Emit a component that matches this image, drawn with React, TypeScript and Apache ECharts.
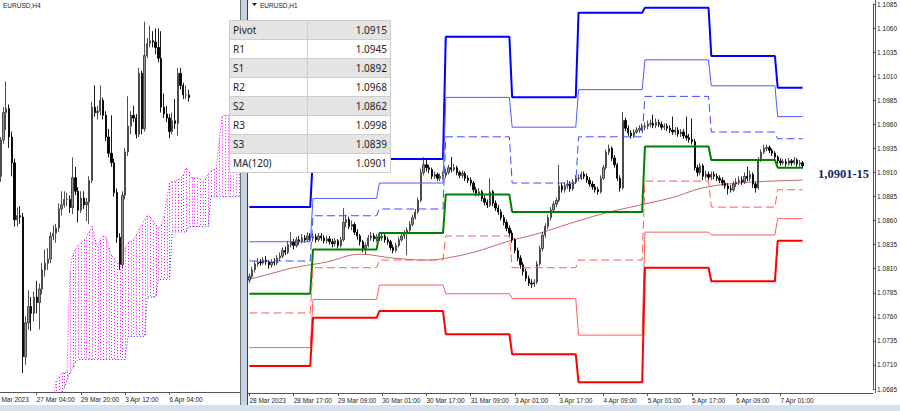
import React, { useEffect, useRef } from "react";
import * as echarts from "echarts";

// ================= H1 panel (right) =================
const h1Days = ["28 Mar", "29 Mar", "30 Mar", "31 Mar", "3 Apr", "4 Apr", "5 Apr", "6 Apr", "7 Apr"];
const h1DayBars = [23, 24, 24, 24, 24, 24, 24, 24, 10];
const h1CatDays = ["28 Mar", "29 Mar", "30 Mar", "31 Mar", "3 Apr", "4 Apr", "5 Apr", "6 Apr", "7 Apr", "10 Apr"];
const h1CatFirstHour = [1, 0, 0, 0, 0, 0, 0, 0, 0, 0];
const h1CatCount = [23, 24, 24, 24, 24, 24, 24, 24, 24, 24];
const h1TotalSlots = 226;
const h1FirstLabel = "28 Mar 2023";
const h1FirstOpen = 1.0798;

const h1Close = [
  1.0802, 1.0809, 1.0815, 1.0817, 1.0816, 1.0819, 1.0817, 1.0814, 1.0817, 1.0816, 1.0821, 1.0823, 1.0829, 1.0827, 1.0835, 1.0838, 1.0834, 1.084, 1.0838, 1.0842, 1.084, 1.0844, 1.0842,
  1.0843, 1.084, 1.0844, 1.0842, 1.0839, 1.0841, 1.0838, 1.0836, 1.0839, 1.0834, 1.084, 1.0858, 1.0861, 1.0854, 1.0856, 1.0848, 1.0844, 1.0838, 1.0831, 1.0834, 1.0842, 1.0844, 1.0841, 1.0843,
  1.0842, 1.0844, 1.084, 1.0838, 1.0832, 1.0829, 1.0834, 1.084, 1.0844, 1.0847, 1.085, 1.0856, 1.0863, 1.0869, 1.0881, 1.091, 1.0918, 1.0915, 1.0913, 1.0906, 1.0908, 1.0904, 1.0906, 1.0907,
  1.091, 1.0915, 1.0913, 1.0915, 1.091, 1.0907, 1.0909, 1.0904, 1.0902, 1.0899, 1.0892, 1.0888, 1.089, 1.0883, 1.0879, 1.0876, 1.089, 1.0878, 1.0873, 1.0869, 1.0863, 1.0858, 1.0852, 1.0847,
  1.084, 1.0829, 1.0821, 1.0814, 1.0807, 1.08, 1.0795, 1.0794, 1.0796, 1.0815, 1.0831, 1.0845, 1.0854, 1.0863, 1.0871, 1.0877, 1.0881, 1.0896, 1.0892, 1.0896, 1.0898, 1.0893, 1.09, 1.0904,
  1.0904, 1.0908, 1.0906, 1.0902, 1.0898, 1.0895, 1.0892, 1.089, 1.0904, 1.0915, 1.0931, 1.0935, 1.0925, 1.0918, 1.0904, 1.0894, 1.0964, 1.0956, 1.0951, 1.0948, 1.0952, 1.0954, 1.0956, 1.0957,
  1.0958, 1.096, 1.0961, 1.0959, 1.0962, 1.096, 1.0957, 1.0958, 1.0956, 1.0954, 1.0952, 1.0954, 1.095, 1.0952, 1.0948, 1.0946, 1.0944, 1.0942, 1.0915, 1.091, 1.0917, 1.0906, 1.0908, 1.0905,
  1.0908, 1.0906, 1.0904, 1.0902, 1.0899, 1.0896, 1.0893, 1.0892, 1.0898, 1.09, 1.0902, 1.09, 1.0906, 1.0904, 1.0908, 1.0898, 1.0894, 1.0923, 1.0931, 1.0935, 1.0936, 1.0933, 1.093, 1.0926,
  1.0922, 1.092, 1.0921, 1.0919, 1.0922, 1.092, 1.0923, 1.0919, 1.092, 1.0917,
];
const h1High = [
  1.0805, 1.0812, 1.0818, 1.0821, 1.082, 1.0822, 1.0823, 1.0819, 1.082, 1.0821, 1.0824, 1.0827, 1.0832, 1.0833, 1.0839, 1.0848, 1.0841, 1.0843, 1.0844, 1.0846, 1.0845, 1.0848, 1.0847,
  1.0847, 1.0846, 1.0847, 1.0847, 1.0845, 1.0844, 1.0844, 1.0841, 1.0842, 1.0841, 1.0843, 1.0873, 1.0866, 1.0864, 1.086, 1.0858, 1.0851, 1.0846, 1.084, 1.0837, 1.0845, 1.0848, 1.0847, 1.0846,
  1.0847, 1.0848, 1.0846, 1.0843, 1.084, 1.0835, 1.0837, 1.0843, 1.0847, 1.085, 1.0853, 1.0859, 1.0866, 1.0872, 1.0884, 1.0914, 1.0926, 1.0923, 1.0918, 1.0915, 1.0911, 1.091, 1.0909, 1.0911,
  1.0914, 1.0918, 1.0926, 1.0919, 1.0917, 1.0912, 1.0912, 1.0911, 1.0907, 1.0905, 1.0901, 1.0895, 1.0894, 1.0892, 1.0886, 1.0882, 1.0904, 1.0892, 1.0881, 1.0876, 1.0872, 1.0866, 1.0861, 1.0855,
  1.085, 1.0842, 1.0832, 1.0824, 1.0817, 1.081, 1.0803, 1.0799, 1.0799, 1.0818, 1.0834, 1.0848, 1.0857, 1.0866, 1.0874, 1.088, 1.0884, 1.0918, 1.0899, 1.09, 1.0902, 1.0901, 1.0903, 1.0907,
  1.0908, 1.0911, 1.0911, 1.0909, 1.0905, 1.0901, 1.0898, 1.0895, 1.0907, 1.0918, 1.0934, 1.0939, 1.0937, 1.0928, 1.092, 1.0907, 1.0973, 1.0967, 1.0959, 1.0954, 1.0955, 1.0957, 1.0959, 1.0961,
  1.0962, 1.0964, 1.0965, 1.097, 1.0966, 1.0965, 1.0963, 1.0961, 1.0961, 1.0959, 1.0968, 1.0957, 1.0957, 1.0955, 1.0955, 1.0968, 1.095, 1.0966, 1.0945, 1.0918, 1.092, 1.0919, 1.0912, 1.0911,
  1.0911, 1.0911, 1.0909, 1.0907, 1.0905, 1.0902, 1.0899, 1.0897, 1.0901, 1.0904, 1.0906, 1.0906, 1.091, 1.0916, 1.0912, 1.091, 1.09, 1.0926, 1.0934, 1.0939, 1.0939, 1.0938, 1.0935, 1.0932,
  1.0928, 1.0925, 1.0924, 1.0924, 1.0925, 1.0924, 1.0926, 1.0925, 1.0923, 1.0922,
];
const h1Low = [
  1.0795, 1.08, 1.0806, 1.0812, 1.0813, 1.0814, 1.0814, 1.081, 1.0811, 1.0813, 1.0814, 1.0818, 1.0821, 1.0824, 1.0825, 1.0832, 1.083, 1.0832, 1.0835, 1.0836, 1.0837, 1.0838, 1.0839,
  1.0838, 1.0837, 1.0838, 1.0839, 1.0836, 1.0836, 1.0835, 1.0832, 1.0833, 1.0831, 1.0832, 1.0838, 1.0853, 1.0851, 1.085, 1.0845, 1.084, 1.0834, 1.0827, 1.0825, 1.0832, 1.0839, 1.0838, 1.0838,
  1.0839, 1.0839, 1.0837, 1.0835, 1.0829, 1.0826, 1.0827, 1.0832, 1.0838, 1.0841, 1.0824, 1.0848, 1.0854, 1.0861, 1.0867, 1.0879, 1.0907, 1.0911, 1.0909, 1.0903, 1.0903, 1.0901, 1.0901, 1.0903,
  1.0904, 1.0908, 1.091, 1.0911, 1.0907, 1.0904, 1.0904, 1.0901, 1.0899, 1.0896, 1.0889, 1.0885, 1.0885, 1.088, 1.0876, 1.0873, 1.0874, 1.0875, 1.087, 1.0866, 1.086, 1.0855, 1.0849, 1.0844,
  1.0837, 1.0826, 1.0818, 1.081, 1.0803, 1.0797, 1.0792, 1.079, 1.0791, 1.0794, 1.0813, 1.0828, 1.0842, 1.0851, 1.086, 1.0868, 1.0874, 1.0879, 1.0889, 1.0889, 1.0893, 1.089, 1.0891, 1.0898,
  1.0901, 1.0902, 1.0903, 1.0899, 1.0895, 1.0892, 1.0889, 1.0887, 1.0888, 1.0902, 1.0913, 1.0928, 1.0922, 1.0915, 1.0901, 1.089, 1.0892, 1.0953, 1.0948, 1.0945, 1.0946, 1.095, 1.0951, 1.0953,
  1.0954, 1.0955, 1.0957, 1.0956, 1.0956, 1.0957, 1.0954, 1.0954, 1.0953, 1.0951, 1.0949, 1.0949, 1.0947, 1.0947, 1.0945, 1.0943, 1.0941, 1.0939, 1.0912, 1.0906, 1.0907, 1.0902, 1.0903, 1.0902,
  1.0902, 1.0903, 1.0901, 1.0899, 1.0896, 1.0893, 1.0887, 1.0889, 1.089, 1.0895, 1.0897, 1.0897, 1.0898, 1.0901, 1.0901, 1.0894, 1.0889, 1.0892, 1.0921, 1.0929, 1.0932, 1.093, 1.0927, 1.0923,
  1.0919, 1.0917, 1.0918, 1.0916, 1.0917, 1.0917, 1.0918, 1.0916, 1.0916, 1.0914,
];

// daily pivot levels (one value per trading day in h1Days)
const pivR3 = [1.0874, 1.0928, 1.0924, 1.1051, 1.0988, 1.1076, 1.1081, 1.1031, 1.0998];
const pivR2 = [1.0838, 1.0883, 1.0899, 1.0988, 1.0957, 1.0996, 1.1027, 1.1, 1.0968];
const pivR1 = [1.0818, 1.0865, 1.0872, 1.0947, 1.0899, 1.0947, 1.0989, 1.0952, 1.0945];
const pivP = [1.0784, 1.083, 1.0847, 1.0887, 1.0869, 1.0869, 1.0937, 1.0923, 1.0915];
const pivS1 = [1.0764, 1.0811, 1.0819, 1.0844, 1.0811, 1.0819, 1.0901, 1.0874, 1.0892];
const pivS2 = [1.0728, 1.0778, 1.0793, 1.0784, 1.0779, 1.0741, 1.0848, 1.0845, 1.0862];
const pivS3 = [1.0709, 1.0759, 1.0766, 1.0742, 1.0721, 1.0692, 1.0811, 1.0797, 1.0839];

// MA(120) read at these bar indices
const ma120Idx = [0, 8, 16, 28, 40, 52, 64, 69, 81, 93, 105, 117, 129, 141, 153, 164, 177, 189, 200];
const ma120Val = [1.0799, 1.0805, 1.0811, 1.0817, 1.0825, 1.0821, 1.0819, 1.082, 1.0827, 1.0838, 1.0847, 1.0858, 1.0868, 1.0876, 1.0884, 1.0894, 1.0899, 1.0901, 1.0902];

const h1AxisMin = 1.0685;
const h1AxisMax = 1.1085;
const h1AxisStep = 0.0025;
const lastPrice = 1.0917;
const annotationText = "1,0901-15";

const tableLabels = ["Pivot", "R1", "S1", "R2", "S2", "R3", "S3", "MA(120)"];
const tableValues = ["1.0915", "1.0945", "1.0892", "1.0968", "1.0862", "1.0998", "1.0839", "1.0901"];

// ================= H4 panel (left) =================
const h4CatDays = ["22 Mar", "23 Mar", "24 Mar", "27 Mar", "28 Mar", "29 Mar", "30 Mar", "31 Mar", "3 Apr", "4 Apr", "5 Apr", "6 Apr", "7 Apr", "10 Apr", "11 Apr", "12 Apr"];
const h4CatFirstHour = [12, 0, 0, 0, 0, 0, 0, 0, 0, 0, 0, 0, 0, 0, 0, 0];
const h4CatCount = [3, 6, 6, 6, 6, 6, 6, 6, 6, 6, 6, 6, 6, 6, 6, 6];
const h4TotalSlots = 90;
const h4FirstLabel = "22 Mar 2023";
const h4FirstLabelVisible = "Mar 2023"; // only this part shows at the panel's left edge
const h4FirstOpen = 1.085;
const h4Close = [
  1.0862, 1.0888, 1.0859, 1.0886, 1.0906, 1.0909, 1.0888, 1.0869, 1.0827, 1.083,
  1.0829, 1.0726, 1.0751, 1.0763, 1.0758, 1.077, 1.0766, 1.0776, 1.079, 1.0795,
  1.0798, 1.0815, 1.0817, 1.0821, 1.0835, 1.0838, 1.0842, 1.0842, 1.0836, 1.0858,
  1.0848, 1.0834, 1.0843, 1.0838, 1.084, 1.0856, 1.091, 1.0906, 1.0907, 1.0915,
  1.0904, 1.0888, 1.0876, 1.0869, 1.0847, 1.0814, 1.0794, 1.0845, 1.0877, 1.0896,
  1.0904, 1.0902, 1.089, 1.0935, 1.0894, 1.0948, 1.0957, 1.0959, 1.0958, 1.0954,
  1.0946, 1.091, 1.0905, 1.0902, 1.0892, 1.09, 1.0898, 1.0935, 1.0926, 1.0919,
  1.0919, 1.0917,
];
const h4Low = [
  1.0845, 1.0858, 1.0852, 1.0855, 1.0883, 1.0893, 1.088, 1.0859, 1.0822, 1.0822,
  1.0824, 1.0714, 1.072, 1.0746, 1.0745, 1.0752, 1.0758, 1.0746, 1.0772, 1.0785,
  1.079, 1.0795, 1.0812, 1.081, 1.0818, 1.083, 1.0836, 1.0837, 1.0832, 1.0831,
  1.0845, 1.0825, 1.0832, 1.0835, 1.0826, 1.0824, 1.0854, 1.0903, 1.0901, 1.0904,
  1.0901, 1.0885, 1.0873, 1.0866, 1.0844, 1.081, 1.079, 1.0791, 1.0842, 1.0874,
  1.089, 1.0899, 1.0887, 1.0888, 1.089, 1.0892, 1.0946, 1.0954, 1.0954, 1.0949,
  1.0943, 1.0906, 1.0902, 1.0899, 1.0887, 1.089, 1.0894, 1.0889, 1.0923, 1.0916,
  1.0916, 1.0914,
];
const h4High = [
  1.0868, 1.0892, 1.0912, 1.0888, 1.091, 1.0929, 1.0912, 1.0892, 1.0872, 1.0836,
  1.0837, 1.0832, 1.0756, 1.0775, 1.077, 1.0774, 1.0782, 1.078, 1.0795, 1.0805,
  1.0806, 1.0818, 1.0823, 1.0824, 1.0839, 1.0848, 1.0848, 1.0847, 1.0845, 1.0873,
  1.0866, 1.0851, 1.0848, 1.0848, 1.0843, 1.0859, 1.0914, 1.0926, 1.0911, 1.0926,
  1.0917, 1.0907, 1.0894, 1.0904, 1.0872, 1.085, 1.0817, 1.0848, 1.088, 1.0918,
  1.0907, 1.0911, 1.0905, 1.0939, 1.0937, 1.0973, 1.0961, 1.097, 1.0966, 1.0968,
  1.0968, 1.0966, 1.092, 1.0911, 1.0905, 1.0906, 1.0916, 1.0939, 1.0939, 1.0928,
  1.0926, 1.0923,
];

// Ichimoku cloud (Senkou spans), starting at H4 slot 22
const cloudStart = 22;
const spanA = [
  1.0694, 1.0708, 1.0711, 1.0714, 1.0714, 1.0715, 1.0788, 1.0801, 1.0805, 1.0808,
  1.081, 1.0812, 1.0814, 1.0818, 1.0822, 1.0812, 1.0807, 1.0812, 1.0815, 1.0814,
  1.0806, 1.0801, 1.0798, 1.0795, 1.0795, 1.0801, 1.0806, 1.081, 1.0811, 1.0812,
  1.0816, 1.082, 1.0823, 1.0827, 1.083, 1.0829, 1.0826, 1.0823, 1.082, 1.0823,
  1.0829, 1.0842, 1.0854, 1.0855, 1.0855, 1.0857, 1.0857, 1.086, 1.0865, 1.0862,
  1.0858, 1.0858, 1.0858, 1.0857, 1.0855, 1.0857, 1.0861, 1.0863, 1.0864, 1.0865,
  1.0886, 1.0903, 1.0904, 1.0904, 1.0904, 1.0906, 1.0907, 1.0907,
];
const spanB = [
  1.069, 1.0694, 1.0698, 1.07, 1.0703, 1.0709, 1.0714, 1.0718, 1.0722, 1.0724,
  1.0724, 1.0724, 1.0724, 1.0724, 1.0724, 1.0724, 1.0724, 1.0724, 1.0724, 1.0724,
  1.0724, 1.0724, 1.0724, 1.0724, 1.0724, 1.0724, 1.0724, 1.0741, 1.0741, 1.0741,
  1.0741, 1.0741, 1.0741, 1.0741, 1.077, 1.077, 1.077, 1.077, 1.0783, 1.0783,
  1.0783, 1.0783, 1.0783, 1.0818, 1.0818, 1.0818, 1.0818, 1.0818, 1.0818, 1.0822,
  1.0822, 1.0822, 1.0822, 1.0822, 1.0822, 1.0822, 1.0822, 1.0844, 1.0844, 1.0844,
  1.0844, 1.0844, 1.0844, 1.0844, 1.0844, 1.0844, 1.0844, 1.0844,
];
const h4AxisMin = 1.07;
const h4AxisMax = 1.0989;

// ================= helpers =================
function buildCats(days: string[], firstHours: number[], counts: number[], step: number, total: number, firstLabel: string) {
  const out: string[] = [];
  days.forEach((d, k) => {
    for (let n = 0; n < counts[k]; n++) {
      const h = firstHours[k] + n * step;
      out.push(`${d} ${String(h).padStart(2, "0")}:00`);
    }
  });
  const res = out.slice(0, total);
  res[0] = firstLabel;
  return res;
}

const FONT = "Liberation Sans";
// the chart canvas starts this many px left of the page edge, so the H4 panel's first bars are cut off
const OX = 9;

export default function App() {
  const ref = useRef<HTMLDivElement>(null);

  useEffect(() => {
    if (!ref.current) return;
    const chart = echarts.init(ref.current, undefined, { renderer: "svg", width: 900 + OX, height: 411 });

    const h1Cats = buildCats(h1CatDays, h1CatFirstHour, h1CatCount, 1, h1TotalSlots, h1FirstLabel);
    const h4Cats = buildCats(h4CatDays, h4CatFirstHour, h4CatCount, 4, h4TotalSlots, h4FirstLabel);

    const h1Candles = h1Close.map((c, i) => [i === 0 ? h1FirstOpen : h1Close[i - 1], c, h1Low[i], h1High[i]]);
    const h4Candles = h4Close.map((c, i) => [i === 0 ? h4FirstOpen : h4Close[i - 1], c, h4Low[i], h4High[i]]);

    const dayStart: number[] = [];
    h1DayBars.reduce((acc, n) => {
      dayStart.push(acc);
      return acc + n;
    }, 0);
    const stepData = (levels: number[]) => {
      const pts: number[][] = [];
      levels.forEach((v, d) => {
        pts.push([dayStart[d], v], [dayStart[d] + h1DayBars[d] - 1, v]);
      });
      return pts;
    };

    const pivotSpecs = [
      { name: "R3", data: pivR3, color: "#0000ff", width: 2, type: "solid" as any },
      { name: "R2", data: pivR2, color: "#4d5cff", width: 1, type: "solid" as any },
      { name: "R1", data: pivR1, color: "#3d4dff", width: 1, type: [8, 4] as any },
      { name: "Pivot", data: pivP, color: "#008000", width: 2, type: "solid" as any },
      { name: "S1", data: pivS1, color: "#ff5c5c", width: 1, type: [8, 4] as any },
      { name: "S2", data: pivS2, color: "#ff5c5c", width: 1, type: "solid" as any },
      { name: "S3", data: pivS3, color: "#ff0000", width: 2, type: "solid" as any },
    ];

    const cloudData = spanA.map((a, k) => [cloudStart + k, a, spanB[k]]);
    const spanAData = spanA.map((a, k) => [cloudStart + k, a]);
    const spanBData = spanB.map((b, k) => [cloudStart + k, b]);

    const h1LabelShow = (i: number) => i % 16 === 0 && i < h1Close.length;
    const h4LabelShow = (i: number) => i % 16 === 0 && i < h4Close.length;

    const candleStyle = {
      color: "#939393",
      color0: "#000000",
      borderColor: "#3c3c3c",
      borderColor0: "#000000",
      borderWidth: 0.9,
    };

    const axisText = { fontSize: 6.5, fontFamily: FONT, color: "#222" };

    // table graphics
    const tX = 229, tY = 20, rowH = 19, tW = 161, colX = 307.5;
    const tableEls: any[] = [];
    tableLabels.forEach((lab, i) => {
      const y = tY + i * rowH;
      tableEls.push({
        type: "rect", z: 100,
        shape: { x: tX + 0.5, y: y + 0.5, width: tW, height: rowH },
        style: { fill: i % 2 === 0 ? "#e4e4e4" : "#ffffff", stroke: "#cdcdcd", lineWidth: 1 },
      });
      tableEls.push({
        type: "line", z: 101,
        shape: { x1: colX, y1: y, x2: colX, y2: y + rowH },
        style: { stroke: "#cdcdcd", lineWidth: 1 },
      });
      tableEls.push({
        type: "text", z: 102, x: tX + 4, y: y + rowH / 2 + 0.5,
        style: { text: lab, fontSize: 10, fontFamily: "Noto Sans", fill: "#1e1e1e", verticalAlign: "middle", align: "left" },
      });
      tableEls.push({
        type: "text", z: 102, x: tX + tW - 3, y: y + rowH / 2 + 0.5,
        style: { text: tableValues[i], fontSize: 10, fontFamily: "Noto Sans", fill: "#1e1e1e", verticalAlign: "middle", align: "right" },
      });
    });

    const option: any = {
      animation: false,
      backgroundColor: "#ffffff",
      grid: [
        { left: 0, top: 0, width: 249, height: 392 },
        { left: 248 + OX, top: 4, width: 627, height: 385 },
      ],
      xAxis: [
        {
          type: "category", gridIndex: 0, data: h4Cats, boundaryGap: true,
          axisLine: { show: true, lineStyle: { color: "#555", width: 1 } },
          axisTick: { show: true, interval: (i: number) => h4LabelShow(i), alignWithLabel: true, length: 3, lineStyle: { color: "#555" } },
          axisLabel: {
            show: true, interval: (i: number) => h4LabelShow(i), align: "left", margin: 4, ...axisText,
            formatter: (v: string, i: number) => (i === 0 ? `{cut|${h4FirstLabelVisible}}` : v),
            rich: { cut: { ...axisText, padding: [0, 0, 0, 9] } },
          },
          splitLine: { show: false },
        },
        {
          type: "category", gridIndex: 1, data: h1Cats, boundaryGap: true, offset: 4,
          axisLine: { show: true, lineStyle: { color: "#555", width: 1 } },
          axisTick: { show: true, interval: (i: number) => h1LabelShow(i), alignWithLabel: true, length: 3, lineStyle: { color: "#555" } },
          axisLabel: { show: true, interval: (i: number) => h1LabelShow(i), align: "left", margin: 4, ...axisText },
          splitLine: { show: false },
        },
      ],
      yAxis: [
        { type: "value", gridIndex: 0, min: h4AxisMin, max: h4AxisMax, show: false, splitLine: { show: false } },
        {
          type: "value", gridIndex: 1, position: "right", min: h1AxisMin, max: h1AxisMax, interval: h1AxisStep,
          axisLine: { show: true, lineStyle: { color: "#555", width: 1 } },
          axisTick: { show: true, length: 3, lineStyle: { color: "#555" } },
          axisLabel: { show: true, margin: 4, formatter: (v: number) => v.toFixed(4), ...axisText },
          splitLine: { show: false },
        },
      ],
      series: [
        // ---- H4 ----
        {
          type: "custom", name: "cloud", xAxisIndex: 0, yAxisIndex: 0, silent: true, z: 1,
          encode: { x: 0, y: [1, 2] },
          data: cloudData,
          renderItem: (params: any, api: any) => {
            const top = api.coord([api.value(0), api.value(1)]);
            const bot = api.coord([api.value(0), api.value(2)]);
            const cs = params.coordSys;
            const clamp = (y: number) => Math.max(cs.y, Math.min(cs.y + cs.height, y));
            const x = Math.round(top[0]) + 0.5;
            return {
              type: "line",
              shape: { x1: x, y1: clamp(top[1]), x2: x, y2: clamp(bot[1]) },
              style: { stroke: "#ff00ff", lineWidth: 1, lineDash: [1, 2] },
            };
          },
        },
        {
          type: "line", name: "spanA", xAxisIndex: 0, yAxisIndex: 0, data: spanAData, symbol: "none", silent: true, z: 2,
          lineStyle: { color: "#ff00ff", width: 1, type: [1, 2] },
        },
        {
          type: "line", name: "spanB", xAxisIndex: 0, yAxisIndex: 0, data: spanBData, symbol: "none", silent: true, z: 2,
          lineStyle: { color: "#2a2aff", width: 1, type: [1, 2] },
        },
        {
          type: "candlestick", name: "EURUSD,H4", xAxisIndex: 0, yAxisIndex: 0, data: h4Candles, barWidth: 1.8, z: 3,
          itemStyle: candleStyle,
        },
        // ---- H1 ----
        {
          type: "line", name: "MA(120)", xAxisIndex: 1, yAxisIndex: 1, symbol: "none", smooth: 0.4, silent: true, z: 2,
          data: ma120Idx.map((x, k) => [x, ma120Val[k]]),
          lineStyle: { color: "#c26464", width: 1 },
        },
        {
          type: "candlestick", name: "EURUSD,H1", xAxisIndex: 1, yAxisIndex: 1, data: h1Candles, barWidth: 1.8, z: 3,
          itemStyle: candleStyle,
          markLine: {
            silent: true, symbol: ["none", "none"],
            data: [{ yAxis: lastPrice }],
            lineStyle: { opacity: 0 },
            label: {
              show: true, position: "end", distance: 1, formatter: lastPrice.toFixed(4),
              color: "#ffffff", backgroundColor: "#000000", fontSize: 6.5, fontFamily: FONT, padding: [1, 2, 1, 2],
            },
          },
        },
        ...pivotSpecs.map((p) => ({
          type: "line", name: p.name, xAxisIndex: 1, yAxisIndex: 1, symbol: "none", silent: true, z: 4,
          data: stepData(p.data),
          lineStyle: { color: p.color, width: p.width, type: p.type },
        })),
      ],
      graphic: [
        {
          type: "group", x: OX, y: 0,
          children: [
            // separator between panels
            { type: "rect", z: 50, shape: { x: 240, y: 0, width: 8, height: 405 }, style: { fill: "#c3d3e6" } },
            { type: "line", z: 51, shape: { x1: 240.5, y1: 0, x2: 240.5, y2: 405 }, style: { stroke: "#6f6f6f", lineWidth: 1 } },
            { type: "line", z: 51, shape: { x1: 247.5, y1: 0, x2: 247.5, y2: 405 }, style: { stroke: "#3c3c3c", lineWidth: 1 } },
            // bottom strip
            { type: "rect", z: 50, shape: { x: -OX, y: 405, width: 900 + OX, height: 6 }, style: { fill: "#d3e1f0" } },
            // right frame
            { type: "line", z: 50, shape: { x1: 875.5, y1: 0, x2: 875.5, y2: 393 }, style: { stroke: "#555", lineWidth: 1 } },
            // titles
            { type: "text", z: 60, x: 3, y: 2, style: { text: "EURUSD,H4", fontSize: 6.5, fontFamily: FONT, fill: "#222" } },
            { type: "polygon", z: 60, shape: { points: [[252, 3], [257, 3], [254.5, 6]] }, style: { fill: "#222" } },
            { type: "text", z: 60, x: 260, y: 2, style: { text: "EURUSD,H1", fontSize: 6.5, fontFamily: FONT, fill: "#222" } },
            ...tableEls,
            // annotation
            {
              type: "text", z: 60, x: 818, y: 174,
              style: { text: annotationText, fontSize: 12.5, fontWeight: "bold", fontFamily: "Liberation Serif", fill: "#1c1c6e", verticalAlign: "middle" },
            },
          ],
        },
      ],
    };

    chart.setOption(option);
    return () => {
      chart.dispose();
    };
  }, []);

  return (
    <div
      ref={ref}
      style={{ position: "fixed", left: -OX, top: 0, width: 900 + OX, height: 411, background: "#fff" }}
    />
  );
}
